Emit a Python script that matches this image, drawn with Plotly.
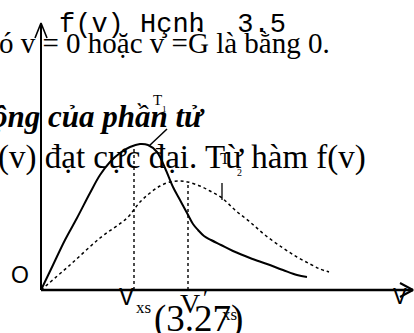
import plotly.graph_objects as go

# Maxwell speed distribution f(v) at two temperatures (T1 < T2), origin at O
v_t1 = [0, 12, 24, 36, 49, 59, 69, 79, 89, 99, 107, 116, 124, 132, 139, 146,
        152, 157, 163, 170, 180, 192, 209, 226, 242, 256, 266]
f_t1 = [0, 25, 50, 72, 97, 115, 128, 137, 143, 146, 145, 138, 122, 103, 90, 77,
        66, 60, 54, 50, 45, 39, 32, 26, 20, 15, 13]

v_t2 = [0, 29, 59, 86, 99, 109, 119, 129, 139, 147, 159, 169, 181, 194, 209,
        224, 242, 256, 269, 279, 288]
f_t2 = [0, 25, 52, 72, 88, 97, 104, 108, 109, 108, 104, 99, 92, 80, 68,
        55, 42, 33, 26, 21, 18]

# most probable speeds and the peak heights reached there
v_xs = [93, 147]
f_peak = [143, 107]

# axis extents and arrowheads
x_axis_v = [0, 372]
x_axis_f = [0, 0]
y_axis_v = [0, 0]
y_axis_f = [0, 266]
x_arrow_v = [359, 372, 359]
x_arrow_f = [7, 0, -7]
y_arrow_v = [-6, 0, 6]
y_arrow_f = [252, 267, 252]

# label pointers
t1_ptr_v = [108, 126]
t1_ptr_f = [144, 161]
t2_ptr_v = [181, 181]
t2_ptr_f = [90, 107]

fig = go.Figure()

def line(xs, ys, width=2, dash="solid", shape="linear"):
    fig.add_trace(go.Scatter(x=xs, y=ys, mode="lines", hoverinfo="skip",
                             line=dict(color="black", width=width, dash=dash, shape=shape)))

line(x_axis_v, x_axis_f, width=2.6)
line(y_axis_v, y_axis_f, width=2)
line(x_arrow_v, x_arrow_f, width=2)
line(y_arrow_v, y_arrow_f, width=1.6)

line(v_t1, f_t1, width=2, shape="spline")
line(v_t2, f_t2, width=1.5, dash="dot", shape="spline")

for vx, fp in zip(v_xs, f_peak):
    line([vx, vx], [0, fp], width=1.4, dash="dot")

line(t1_ptr_v, t1_ptr_f, width=1.5)
line(t2_ptr_v, t2_ptr_f, width=1.3)

SERIF = "Liberation Serif"
MONO = "Liberation Mono"
SANS = "Liberation Sans"

def label(text, x, y, family, size, xanchor="center", yanchor="middle"):
    fig.add_annotation(x=x, y=y, xref="x", yref="y", text=text, showarrow=False,
                       xanchor=xanchor, yanchor=yanchor,
                       font=dict(family=family, size=size, color="black"))

label("f(v) Hçnh\u00a0 3.5", 16, 265, MONO, 27, xanchor="left")
label("ó v = 0 hoặc v =Ġ là bằng 0.", 291, 247, SERIF, 29, xanchor="right")
label("<b><i>ộng của phần tử</i></b>", 166, 174, SERIF, 31, xanchor="right")
label("(v) đạt cực đại. Từ hàm f(v)", 327, 133, SERIF, 33, xanchor="right")

label("O", -21, 15, SANS, 23)
label("V", 85, -8, MONO, 25)
label("xs", 102, -17, SERIF, 17)
label("(3.27)", 111, -29, SERIF, 37, xanchor="left")
label("V", 149, -13, SERIF, 28)
label("′", 164, -7, SERIF, 22)
label("xs", 188, -24, SERIF, 17)
label("V", 359, -8, MONO, 23)

label("T", 116, 190, SERIF, 15)
label("1", 123, 181, SERIF, 9)
label("T", 184, 132, SERIF, 16)
label("2", 198, 118, SERIF, 10)

fig.update_layout(
    width=414, height=333,
    margin=dict(l=0, r=0, t=0, b=0),
    paper_bgcolor="white", plot_bgcolor="white",
    showlegend=False,
    xaxis=dict(range=[-41, 373], visible=False, fixedrange=True),
    yaxis=dict(range=[-43, 290], visible=False, fixedrange=True),
)

fig.write_html("out.html")
